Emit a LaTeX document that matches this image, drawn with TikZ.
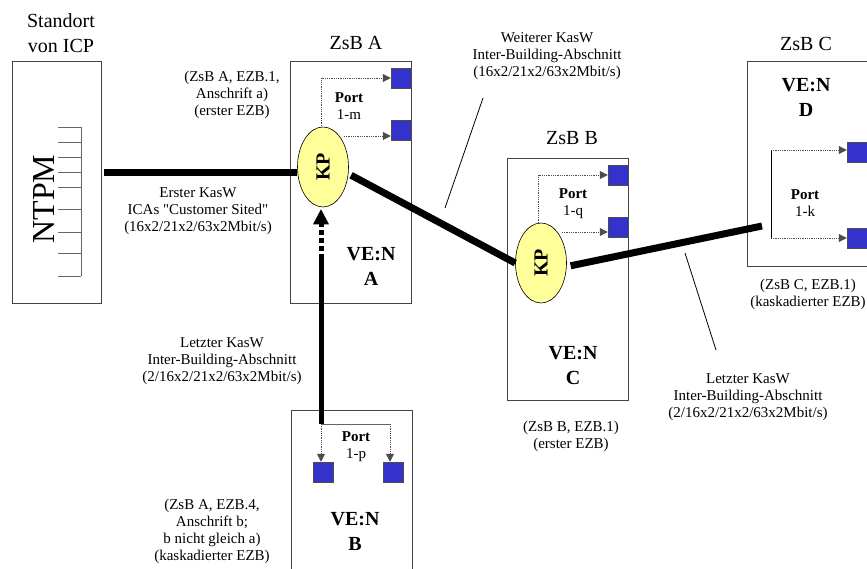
\documentclass[tikz,border=0pt]{standalone}
\usepackage{fontspec}
\setmainfont{Liberation Serif}[Ligatures=TeXOff]
\usetikzlibrary{arrows.meta,shapes.geometric}
\definecolor{boxgray}{HTML}{444444}
\definecolor{portblue}{HTML}{3333CC}
\definecolor{kpyellow}{HTML}{FFFF99}
\newcommand\txtS{\fontsize{15}{17}\selectfont}
\newcommand\txtL{\fontsize{20}{25}\selectfont}
\tikzset{
  sitebox/.style={draw=boxgray, line width=0.9pt, inner sep=0pt},
  kp/.style={ellipse, draw=black, line width=0.6pt, fill=kpyellow, minimum width=51, minimum height=80, inner sep=0pt},
  sq/.style={draw=black!70, line width=0.5pt, fill=portblue, minimum size=20, inner sep=0pt},
  thickline/.style={line width=7pt, black},
  portline/.style={densely dotted, black!70, line width=0.8pt, -{Triangle[length=8pt,width=8pt]}},
  callout/.style={black, line width=0.8pt},
  lbl/.style={align=center, inner sep=0pt, font=\txtS},
  head/.style={align=center, inner sep=0pt, font=\txtL},
  bhead/.style={align=center, inner sep=0pt, font=\txtL\bfseries},
  ptxt/.style={align=center, inner sep=0pt, font=\txtS},
}
\begin{document}
\begin{tikzpicture}[x=1pt,y=-1pt]
\clip (0,0) rectangle (867,569);
\fill[white] (0,0) rectangle (867,569);

% boxes
\node[sitebox, minimum width=89, minimum height=242] (ntpm) at (56.5,182) {};
\node[sitebox, minimum width=121, minimum height=242] (zsbA) at (350.5,182) {};
\node[sitebox, minimum width=121, minimum height=242] (zsbB) at (567.5,279) {};
\node[sitebox, minimum width=133, minimum height=205] (zsbC) at (813.5,163.5) {};
\node[sitebox, minimum width=121, minimum height=190] (boxP) at (351.5,505) {};

% NTPM
\node[rotate=90, inner sep=0pt, font=\fontsize{32}{36}\selectfont] (ntpmtxt) at (44,199) {NTPM};
\draw[black!60, line width=0.8pt] (81,127) -- (81,276);
\foreach \yy in {127,142,157,172,187,209,232,253,276}
  \draw[black!60, line width=0.8pt] (58,\yy) -- (81,\yy);

% headings
\node[head] (hstand) at (61,33) {Standort\\von ICP};
\node[head] (hA) at (356,43) {ZsB A};
\node[head] (hB) at (572,138) {ZsB B};
\node[head] (hC) at (806,44) {ZsB C};

% squares
\node[sq] (sqA1) at (401,78) {};
\node[sq] (sqA2) at (401,130) {};
\node[sq] (sqB1) at (618,175) {};
\node[sq] (sqB2) at (618,227) {};
\node[sq] (sqC1) at (857,152) {};
\node[sq] (sqC2) at (857,238) {};
\node[sq] (sqP1) at (323.5,472) {};
\node[sq] (sqP2) at (393.5,472) {};

% port connectors
\coordinate (pA) at (321,135);
\coordinate (pA2) at (344,136);
\draw[portline] (pA) |- (sqA1.west);
\draw[portline] (pA2) -- (pA2 -| sqA2.west);
\coordinate (pB) at (538,232);
\coordinate (pB2) at (562,232);
\draw[portline] (pB) |- (sqB1.west);
\draw[portline] (pB2) -- (pB2 -| sqB2.west);
\coordinate (pC1) at (771,150);
\coordinate (pC2) at (771,238);
\draw[black, line width=0.8pt] (pC1) -- (pC2);
\draw[portline] (pC1) -- (pC1 -| sqC1.west);
\draw[portline] (pC2) -- (pC2 -| sqC2.west);
\coordinate (pP) at (321,424);
\coordinate (pP2) at (390,424);
\draw[black!60, line width=0.8pt] (pP) -- (pP2);
\draw[portline] (pP) -- (pP |- sqP1.north);
\draw[portline] (pP2) -- (pP2 |- sqP2.north);

% KP ellipses
\node[kp] (kpA) at (323,167) {};
\node[kp] (kpB) at (541,263) {};
\node[rotate=90, inner sep=0pt, font=\txtL\bfseries] (kpAt) at (kpA) {KP};
\node[rotate=90, inner sep=0pt, font=\txtL\bfseries] (kpBt) at (kpB) {KP};

% thick connectors
\coordinate (l1a) at (104,173);
\draw[thickline] (l1a) -- (l1a -| kpA.west);
\draw[thickline, shorten <=3pt] (kpA.-15) -- (kpB.west);
\coordinate (l3b) at (762,226);
\draw[thickline, shorten <=4pt] (kpB.-8) -- (l3b);
\coordinate (l4a) at (321,424);
\coordinate (l4m) at (321,259);
\draw[line width=5pt] (l4a) -- (l4m);
\draw[line width=5pt, dash pattern=on 5pt off 3pt, shorten >=2pt,
      -{Triangle[length=15pt,width=16pt,line width=0pt]}] (l4m) -- (l4m |- kpA.south);

% callouts
\coordinate (c1a) at (445,208);
\coordinate (c1b) at (483,98);
\draw[callout] (c1a) -- (c1b);
\coordinate (c2a) at (685,253);
\coordinate (c2b) at (716,350);
\draw[callout] (c2a) -- (c2b);

% port texts
\node[ptxt] (portA) at (349,106) {\textbf{Port}\\1-m};
\node[ptxt] (portB) at (573,204) {\textbf{Port}\\1-q};
\node[ptxt] (portC) at (805,203) {\textbf{Port}\\1-k};
\node[ptxt] (portP) at (356,447) {\textbf{Port}\\1-p};

% VE:N texts
\node[bhead] (veA) at (371,266) {VE:N\\A};
\node[bhead] (veC) at (573,366) {VE:N\\C};
\node[bhead] (veD) at (806,97) {VE:N\\D};
\node[bhead] (veB) at (355,531) {VE:N\\B};

% labels
\node[lbl] (lezb1) at (232,95) {(ZsB A, EZB.1,\\Anschrift a)\\(erster EZB)};
\node[lbl] (lerst) at (198,211) {Erster KasW\\ICAs "Customer Sited"\\(16x2/21x2/63x2Mbit/s)};
\node[lbl] (lweit) at (547,56) {Weiterer KasW\\Inter-Building-Abschnitt\\(16x2/21x2/63x2Mbit/s)};
\node[lbl] (llet1) at (222,361) {Letzter KasW\\Inter-Building-Abschnitt\\(2/16x2/21x2/63x2Mbit/s)};
\node[lbl] (lezb4) at (212,531) {(ZsB A, EZB.4,\\Anschrift b;\\b nicht gleich a)\\(kaskadierter EZB)};
\node[lbl] (llet2) at (748,397) {Letzter KasW\\Inter-Building-Abschnitt\\(2/16x2/21x2/63x2Mbit/s)};
\node[lbl] (lzsbB) at (571,436) {(ZsB B, EZB.1)\\(erster EZB)};
\node[lbl] (lzsbC) at (808,294) {(ZsB C, EZB.1)\\(kaskadierter EZB)};
\end{tikzpicture}
\end{document}
